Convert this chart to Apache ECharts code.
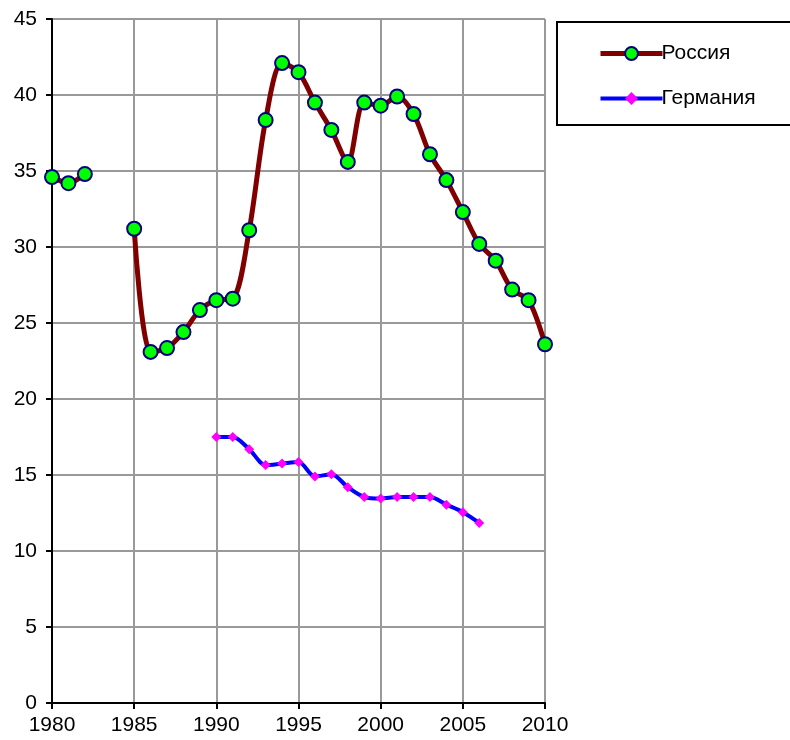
<!DOCTYPE html>
<html lang="ru">
<head>
<meta charset="UTF-8">
<title>Россия / Германия</title>
<style>
  html, body { margin: 0; padding: 0; background: #fff; }
  #chart { width: 790px; height: 740px; }
</style>
<script src="https://cdn.jsdelivr.net/npm/echarts@6/dist/echarts.min.js"></script>
</head>
<body>
<div id="chart"></div>
<script>
// годы и значения (null = нет данных)
var years = [1980, 1981, 1982, 1983, 1984, 1985, 1986, 1987, 1988, 1989,
             1990, 1991, 1992, 1993, 1994, 1995, 1996, 1997, 1998, 1999,
             2000, 2001, 2002, 2003, 2004, 2005, 2006, 2007, 2008, 2009, 2010];
var russia = [34.6, 34.2, 34.8, null, null, 31.2, 23.1, 23.35, 24.4, 25.85,
              26.5, 26.6, 31.1, 38.35, 42.1, 41.5, 39.5, 37.7, 35.6, 39.5,
              39.3, 39.9, 38.75, 36.1, 34.4, 32.3, 30.2, 29.1, 27.2, 26.5, 23.6];
var germanyYears = [1990, 1991, 1992, 1993, 1994, 1995, 1996, 1997, 1998,
                    1999, 2000, 2001, 2002, 2003, 2004, 2005, 2006];
var germany = [17.5, 17.5, 16.7, 15.65, 15.75, 15.85, 14.9, 15.05, 14.2,
               13.55, 13.45, 13.55, 13.55, 13.55, 13.05, 12.55, 11.85];

function pairs(xs, ys) {
  return xs.map(function (x, i) { return [x, ys[i] == null ? '-' : ys[i]]; });
}

var myChart = echarts.init(document.getElementById('chart'));
var font = 'Liberation Sans, Arial, sans-serif';

var option = {
  animation: false,
  grid: { left: 52, right: 245, top: 19, bottom: 37, containLabel: false },
  legend: {
    orient: 'vertical',
    left: 557,
    top: 22,
    padding: [21, 60, 16, 41],
    itemGap: 24,
    itemWidth: 62,
    itemHeight: 16,
    borderColor: '#000',
    borderWidth: 2,
    backgroundColor: '#fff',
    textStyle: { fontFamily: font, fontSize: 21, color: '#000', padding: [0, 0, 0, -6] },
    data: [
      { name: 'Россия', lineStyle: { width: 5 } },
      { name: 'Германия', lineStyle: { width: 4 } }
    ]
  },
  xAxis: {
    type: 'value',
    min: 1980, max: 2010, interval: 5,
    axisLine: { lineStyle: { color: '#000', width: 2 } },
    axisTick: { show: true, length: 6, lineStyle: { color: '#000', width: 2 } },
    axisLabel: { fontFamily: font, fontSize: 21, color: '#000', margin: 12,
                 formatter: function (v) { return String(v); } },
    splitLine: { show: true, lineStyle: { color: '#999', width: 2 } }
  },
  yAxis: {
    type: 'value',
    min: 0, max: 45, interval: 5,
    axisLine: { show: true, lineStyle: { color: '#000', width: 2 } },
    axisTick: { show: true, length: 6, lineStyle: { color: '#000', width: 2 } },
    axisLabel: { fontFamily: font, fontSize: 21, color: '#000', margin: 15 },
    splitLine: { show: true, lineStyle: { color: '#999', width: 2 } }
  },
  series: [
    {
      name: 'Россия',
      type: 'line',
      smooth: 0.3,
      connectNulls: false,
      data: pairs(years, russia),
      lineStyle: { color: '#800000', width: 5 },
      symbol: 'circle',
      symbolSize: 14,
      itemStyle: { color: '#00ff00', borderColor: '#000080', borderWidth: 2 },
      z: 3
    },
    {
      name: 'Германия',
      type: 'line',
      smooth: 0.3,
      data: pairs(germanyYears, germany),
      lineStyle: { color: '#0000ff', width: 4 },
      symbol: 'diamond',
      symbolSize: 10,
      itemStyle: { color: '#ff00ff', borderWidth: 0 },
      z: 2
    }
  ]
};

myChart.setOption(option);
</script>
</body>
</html>
